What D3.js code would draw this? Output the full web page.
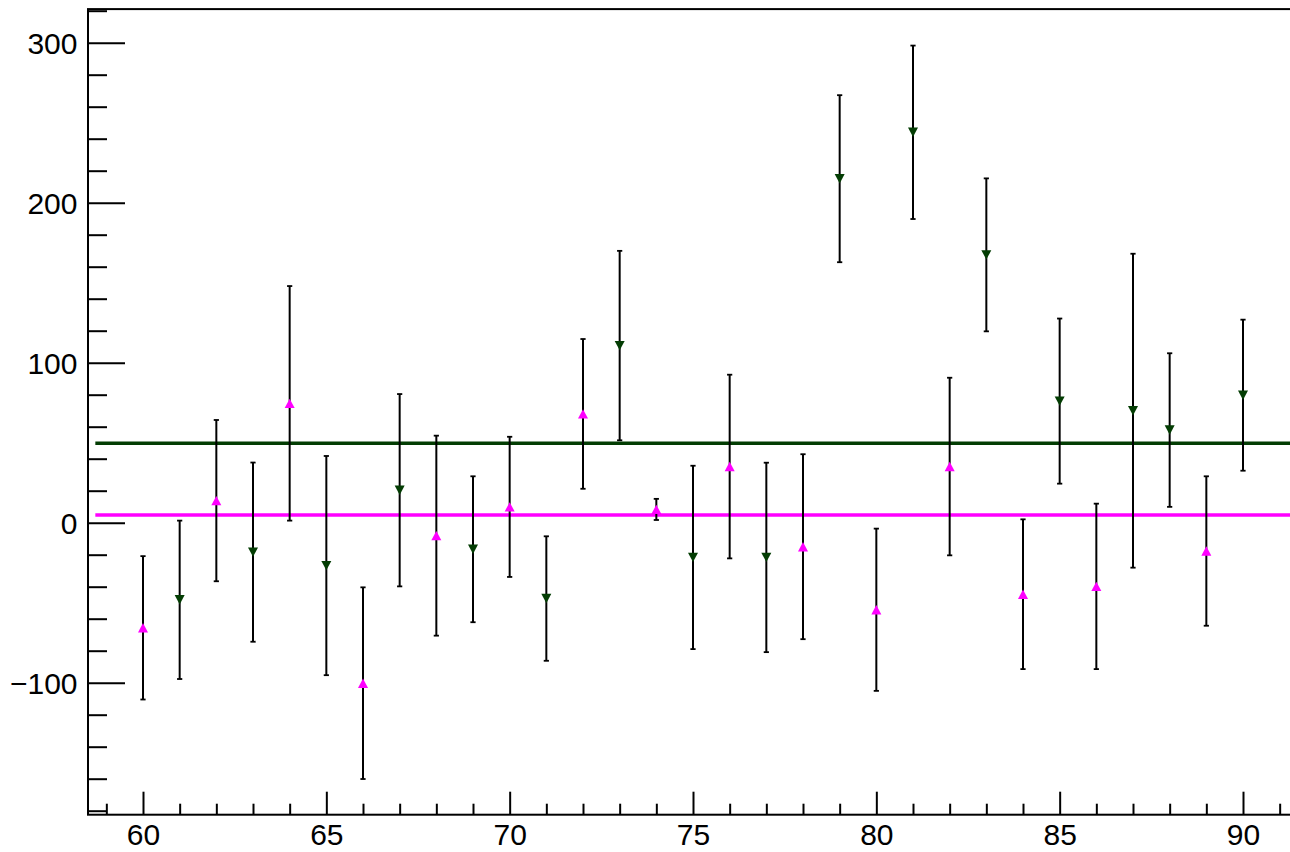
<!DOCTYPE html>
<html>
<head>
<meta charset="utf-8">
<script src="https://cdn.jsdelivr.net/npm/d3@7"></script>
<style>
  html, body { margin: 0; padding: 0; background: #fff; }
  svg { display: block; }
  text { font-family: "Liberation Sans", Arial, Helvetica, sans-serif; }
</style>
</head>
<body>
<svg id="chart" width="1290" height="852"></svg>
<script>
// ---- data ----
const magentaX   = [60, 62, 64, 66, 68, 70, 72, 74, 76, 78, 80, 82, 84, 86, 89];
const magentaY   = [-65.7, 13.8, 74.6, -100.3, -8.1, 9.9, 68.0, 8.3, 35.1, -15.0, -54.4, 35.1, -44.7, -39.8, -17.7];
const magentaErr = [44.8, 50.4, 73.3, 59.9, 62.5, 43.8, 46.8, 6.6, 57.4, 57.8, 50.7, 55.5, 46.8, 51.7, 46.7];

const greenX   = [61, 63, 65, 67, 69, 71, 73, 75, 77, 79, 81, 83, 85, 87, 88, 90];
const greenY   = [-48.2, -18.4, -26.8, 20.3, -16.6, -47.4, 110.7, -21.7, -21.7, 215.0, 244.0, 167.4, 76.0, 70.0, 57.9, 79.7];
const greenErr = [49.5, 56.0, 68.5, 60.1, 45.6, 38.9, 59.2, 57.3, 59.2, 52.2, 54.2, 47.8, 51.6, 98.1, 48.0, 47.2];

const greenLevel = 49.7;
const magentaLevel = 4.8;
const levelRange = [58.7, 91.5];

const xDomain = [58.5, 91.5];
const yDomain = [-182.5, 321];
const xMajorTicks = [60, 65, 70, 75, 80, 85, 90];
const xMinorTicks = [59, 61, 62, 63, 64, 66, 67, 68, 69, 71, 72, 73, 74, 76, 77, 78, 79, 81, 82, 83, 84, 86, 87, 88, 89, 91];
const yMajorTicks = [-100, 0, 100, 200, 300];
const yMinorTicks = [-180, -160, -140, -120, -80, -60, -40, -20, 20, 40, 60, 80, 120, 140, 160, 180, 220, 240, 260, 280, 320];

// ---- style ----
const MAGENTA = "#ff00ff";
const GREEN = "#033d03";

const svg = d3.select("#chart");
const pL = 88, pR = 1298, pT = 9.1, pB = 814.7;

const x = d3.scaleLinear().domain(xDomain).range([pL, pR]);
const y = d3.scaleLinear().domain(yDomain).range([pB, pT]);

// horizontal levels
[[greenLevel, GREEN], [magentaLevel, MAGENTA]].forEach(([lv, c]) => {
  svg.append("line")
    .attr("x1", x(levelRange[0])).attr("x2", x(levelRange[1]))
    .attr("y1", y(lv)).attr("y2", y(lv))
    .attr("stroke", c).attr("stroke-width", 3.5);
});

// error bars + markers
function drawSeries(xs, ys, es, color, up) {
  const g = svg.append("g");
  xs.forEach((xv, i) => {
    const cx = x(xv), y0 = y(ys[i] - es[i]), y1 = y(ys[i] + es[i]);
    g.append("line").attr("x1", cx).attr("x2", cx).attr("y1", y0).attr("y2", y1)
      .attr("stroke", "#000").attr("stroke-width", 2);
    [y0, y1].forEach(yy => {
      g.append("line").attr("x1", cx - 2.6).attr("x2", cx + 2.6).attr("y1", yy).attr("y2", yy)
        .attr("stroke", "#000").attr("stroke-width", 1.8);
    });
  });
  xs.forEach((xv, i) => {
    const cx = x(xv), cy = y(ys[i]);
    const w = 5, h = 4.7;
    const p = d3.path();
    if (up) {
      p.moveTo(cx - w, cy + h); p.lineTo(cx + w, cy + h); p.lineTo(cx, cy - h);
    } else {
      p.moveTo(cx - w, cy - h); p.lineTo(cx + w, cy - h); p.lineTo(cx, cy + h);
    }
    p.closePath();
    g.append("path").attr("d", p.toString()).attr("fill", color);
  });
}
drawSeries(magentaX, magentaY, magentaErr, MAGENTA, true);
drawSeries(greenX, greenY, greenErr, GREEN, false);

// frame
svg.append("rect").attr("x", pL).attr("y", pT)
  .attr("width", pR - pL).attr("height", pB - pT)
  .attr("fill", "none").attr("stroke", "#000").attr("stroke-width", 2);

// axes
const xAxis = svg.append("g").attr("transform", `translate(0,${pB})`)
  .call(d3.axisBottom(x).tickValues(xMajorTicks).tickSize(-23).tickPadding(9.5).tickFormat(d3.format("d")));
const xAxisMinor = svg.append("g").attr("transform", `translate(0,${pB})`)
  .call(d3.axisBottom(x).tickValues(xMinorTicks).tickSize(-11).tickFormat(""));
const yAxis = svg.append("g").attr("transform", `translate(${pL},0)`)
  .call(d3.axisLeft(y).tickValues(yMajorTicks).tickSize(-37).tickPadding(10.5)
    .tickFormat(d => d < 0 ? "\u2212" + Math.abs(d) : String(d)));
const yAxisMinor = svg.append("g").attr("transform", `translate(${pL},0)`)
  .call(d3.axisLeft(y).tickValues(yMinorTicks).tickSize(-19).tickFormat(""));

[xAxis, xAxisMinor, yAxis, yAxisMinor].forEach(a => {
  a.select(".domain").remove();
  a.selectAll(".tick line").attr("stroke", "#000").attr("stroke-width", 2);
  a.selectAll(".tick text").attr("fill", "#000")
    .style("font-family", '"Liberation Sans", Arial, Helvetica, sans-serif')
    .style("font-size", "30px");
});
yAxis.selectAll(".tick text").attr("dy", "0.355em");
xAxis.selectAll(".tick text").attr("dy", "0.71em");
</script>
</body>
</html>
